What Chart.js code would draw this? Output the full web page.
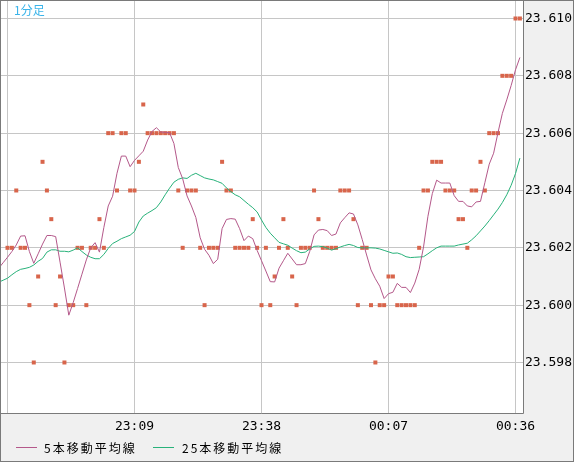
<!DOCTYPE html>
<html><head><meta charset="utf-8">
<script src="https://cdn.jsdelivr.net/npm/chart.js@4.4.1/dist/chart.umd.min.js"></script>
<style>html,body{margin:0;padding:0;background:#f0f0f0;overflow:hidden}canvas{display:block}</style>
</head><body>
<canvas id="c" width="574" height="462"></canvas>
<script>
const times = ["22:38","22:39","22:40","22:41","22:42","22:43","22:44","22:45","22:46","22:47","22:48","22:49",
"22:50","22:51","22:52","22:53","22:54","22:55","22:56","22:57","22:58","22:59",
"23:00","23:01","23:02","23:03","23:04","23:05","23:06","23:07","23:08","23:09",
"23:10","23:11","23:12","23:13","23:14","23:15","23:16","23:17","23:18","23:19",
"23:20","23:21","23:22","23:23","23:24","23:25","23:26","23:27","23:28","23:29",
"23:30","23:31","23:32","23:33","23:34","23:35","23:36","23:37","23:38","23:39",
"23:40","23:41","23:42","23:43","23:44","23:45","23:46","23:47","23:48","23:49",
"23:50","23:51","23:52","23:53","23:54","23:55","23:56","23:57","23:58","23:59",
"00:00","00:01","00:02","00:03","00:04","00:05","00:06","00:07","00:08","00:09",
"00:10","00:11","00:12","00:13","00:14","00:15","00:16","00:17","00:18","00:19",
"00:20","00:21","00:22","00:23","00:24","00:25","00:26","00:27","00:28","00:29",
"00:30","00:31","00:32","00:33","00:34","00:35","00:36","00:37"];

const closePrices = [null,null,
23.602,23.602,23.604,23.602,23.602,23.600,23.598,23.601,23.605,23.604,
23.603,23.600,23.601,23.598,23.600,23.600,23.602,23.602,23.600,23.602,
23.602,23.603,23.602,23.606,23.606,23.604,23.606,23.606,23.604,23.604,
23.605,23.607,23.606,23.606,23.606,23.606,23.606,23.606,23.606,23.604,
23.602,23.604,23.604,23.604,23.602,23.600,23.602,23.602,23.602,23.605,
23.604,23.604,23.602,23.602,23.602,23.602,23.603,23.602,23.600,23.602,
23.600,23.601,23.602,23.603,23.602,23.601,23.600,23.602,23.602,23.602,
23.604,23.603,23.602,23.602,23.602,23.602,23.604,23.604,23.604,23.603,
23.600,23.602,23.602,23.600,23.598,23.600,23.600,23.601,23.601,23.600,
23.600,23.600,23.600,23.600,23.602,23.604,23.604,23.605,23.605,23.605,
23.604,23.604,23.604,23.603,23.603,23.602,23.604,23.604,23.605,23.604,
23.606,23.606,23.606,23.608,23.608,23.608,23.610,23.610];

const ma5 = [23.60129,23.60148,
23.60167,23.60187,23.60210,23.60241,23.60242,23.60187,23.60146,23.60179,23.60213,23.60243,
23.60243,23.60239,23.60150,23.60060,23.59965,23.60009,23.60058,23.60108,23.60158,23.60200,
23.60218,23.60185,23.60271,23.60346,23.60380,23.60460,23.60520,23.60520,23.60483,23.60505,
23.60521,23.60537,23.60576,23.60606,23.60619,23.60604,23.60603,23.60602,23.60564,23.60480,
23.60441,23.60381,23.60346,23.60306,23.60235,23.60195,23.60174,23.60145,23.60160,23.60267,
23.60299,23.60302,23.60300,23.60267,23.60225,23.60241,23.60232,23.60191,23.60155,23.60119,
23.60082,23.60081,23.60129,23.60155,23.60181,23.60161,23.60141,23.60141,23.60145,23.60187,
23.60245,23.60262,23.60264,23.60260,23.60243,23.60248,23.60287,23.60305,23.60322,23.60318,
23.60280,23.60229,23.60175,23.60123,23.60092,23.60066,23.60023,23.60040,23.60045,23.60076,
23.60062,23.60062,23.60044,23.60077,23.60125,23.60203,23.60310,23.60389,23.60436,23.60426,
23.60426,23.60426,23.60382,23.60362,23.60362,23.60346,23.60343,23.60360,23.60362,23.60427,
23.60492,23.60530,23.60602,23.60669,23.60716,23.60766,23.60821,23.60864];

const ma25 = [23.60080,23.60087,
23.60094,23.60106,23.60117,23.60125,23.60128,23.60132,23.60140,23.60153,23.60163,23.60185,
23.60193,23.60193,23.60188,23.60188,23.60186,23.60192,23.60200,23.60187,23.60175,23.60167,
23.60162,23.60162,23.60177,23.60198,23.60215,23.60223,23.60232,23.60238,23.60244,23.60257,
23.60290,23.60311,23.60321,23.60330,23.60340,23.60360,23.60385,23.60408,23.60429,23.60439,
23.60444,23.60442,23.60453,23.60460,23.60452,23.60444,23.60440,23.60437,23.60431,23.60425,
23.60409,23.60396,23.60385,23.60378,23.60365,23.60352,23.60340,23.60325,23.60297,23.60271,
23.60251,23.60235,23.60219,23.60214,23.60209,23.60199,23.60190,23.60183,23.60185,23.60196,
23.60205,23.60206,23.60204,23.60199,23.60192,23.60197,23.60203,23.60208,23.60212,23.60208,
23.60201,23.60200,23.60200,23.60200,23.60199,23.60196,23.60191,23.60186,23.60181,23.60182,
23.60177,23.60169,23.60166,23.60167,23.60168,23.60169,23.60179,23.60190,23.60200,23.60206,
23.60206,23.60206,23.60206,23.60210,23.60213,23.60216,23.60228,23.60242,23.60259,23.60276,
23.60295,23.60315,23.60335,23.60358,23.60385,23.60418,23.60459,23.60513];

const yTicks = [23.598,23.600,23.602,23.604,23.606,23.608,23.610];
const xTickTimes = ["22:40","23:09","23:38","00:07","00:36"];
const xTickLabels = ["","23:09","23:38","00:07","00:36"];
const titleText = "1分足";
const legendNames = ["5本移動平均線","25本移動平均線"];

const COL_DOT = "#d8654b", COL_MA5 = "#b4588a", COL_MA25 = "#28b27a";

function toMin(t){const p=t.split(":").map(Number);let v=p[0]*60+p[1];if(p[0]<12)v+=1440;return v-(22*60+40);}
const pts = arr => times.map((t,i)=>({x:toMin(t),y:arr[i]}));

const framePlugin = {
  id:"frame",
  beforeDraw(chart){
    const c=chart.ctx, a=chart.chartArea;
    c.save();
    c.fillStyle="#f0f0f0"; c.fillRect(0,0,chart.width,chart.height);
    c.fillStyle="#ffffff"; c.fillRect(a.left,a.top,a.right-a.left,a.bottom-a.top);
    c.restore();
  },
  afterDraw(chart){
    const c=chart.ctx, a=chart.chartArea;
    c.save();
    c.strokeStyle="#7a7a7a"; c.lineWidth=1;
    c.beginPath();
    c.moveTo(a.right+0.5,0); c.lineTo(a.right+0.5,a.bottom+0.5);
    c.moveTo(0,a.bottom+0.5); c.lineTo(a.right+0.5,a.bottom+0.5);
    c.stroke();
    c.strokeRect(0.5,0.5,chart.width-1,chart.height-1);
    c.font='12px "Noto Sans CJK JP"';
    c.fillStyle="#3ab4ea"; c.textBaseline="middle"; c.textAlign="left";
    c.fillText(titleText,14,10);
    const cols=[COL_MA5,COL_MA25], lx=[16,153], tx=[44,182], ly=447.5;
    c.font='12px "Noto Sans CJK JP"';
    try{c.letterSpacing="2px";}catch(e){}
    for(let k=0;k<2;k++){
      c.strokeStyle=cols[k]; c.beginPath(); c.moveTo(lx[k],ly); c.lineTo(lx[k]+21,ly); c.stroke();
      c.fillStyle="#000"; c.fillText(legendNames[k],tx[k],448);
    }
    c.restore();
  }
};

new Chart(document.getElementById("c"),{
  type:"line",
  data:{datasets:[
    {label:legendNames[0],data:pts(ma5),borderColor:COL_MA5,borderWidth:1,pointRadius:0,tension:0,order:0,clip:0},
    {label:legendNames[1],data:pts(ma25),borderColor:COL_MA25,borderWidth:1,pointRadius:0,tension:0,order:1,clip:0},
    {label:"close",data:pts(closePrices),showLine:false,pointStyle:"rect",pointRadius:2.83,pointBorderWidth:0,
     pointBackgroundColor:COL_DOT,backgroundColor:COL_DOT,borderColor:COL_DOT,order:2,clip:0}
  ]},
  options:{
    responsive:false,animation:false,
    layout:{padding:{left:1,top:1,right:0,bottom:0},autoPadding:false},
    plugins:{legend:{display:false},tooltip:{enabled:false}},
    scales:{
      x:{type:"linear",min:-1.4843,max:117.71,
        grid:{color:"#c6c6c6",drawTicks:false,lineWidth:1},border:{display:false},
        afterBuildTicks(s){s.ticks=xTickTimes.map(t=>({value:toMin(t)}));},
        afterFit(s){s.height=49;s.paddingLeft=0;s.paddingRight=0;},
        ticks:{autoSkip:false,maxRotation:0,padding:6,color:"#000",font:{family:'"DejaVu Sans Mono"',size:13},
          callback:(v,i)=>xTickLabels[i]}},
      y:{type:"linear",position:"right",min:23.5962379,max:23.610610,
        grid:{color:"#c6c6c6",drawTicks:false,lineWidth:1},border:{display:false},
        afterBuildTicks(s){s.ticks=yTicks.map(v=>({value:v}));},
        afterFit(s){s.width=51;s.paddingTop=0;s.paddingBottom=0;},
        ticks:{padding:2,color:"#000",font:{family:'"DejaVu Sans Mono"',size:13},
          callback:v=>Number(v).toFixed(3)}}
    }
  },
  plugins:[framePlugin]
});
</script>
</body></html>
